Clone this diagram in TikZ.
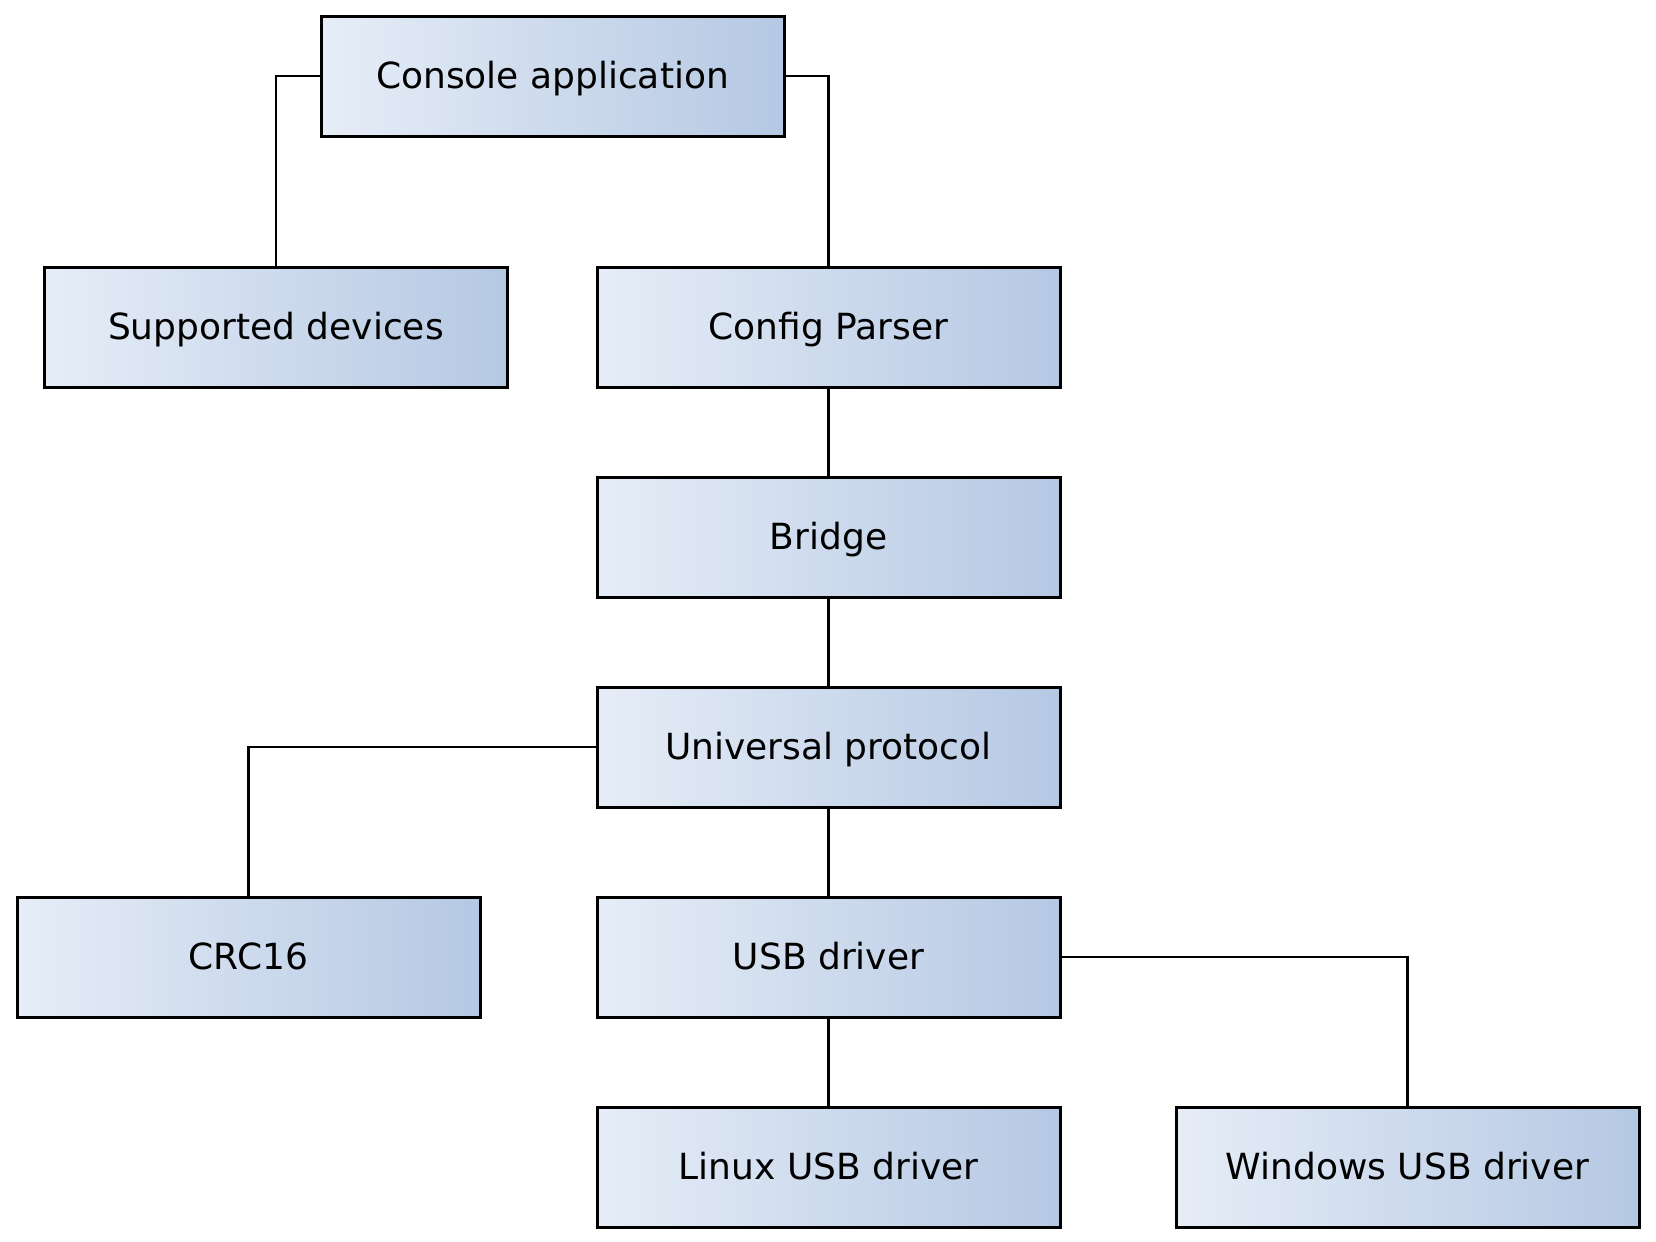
\documentclass[tikz,border=0pt]{standalone}
\usepackage{fontspec}
\setmainfont{DejaVu Sans}
\definecolor{gl}{HTML}{E6EDF7}
\definecolor{gr}{HTML}{B5C8E3}
\tikzset{
  blk/.style={draw=black, line width=1.5pt, left color=gl, right color=gr,
    minimum width=231.5pt, minimum height=60pt, inner sep=0pt,
    text height=12.2pt, text depth=0pt,
    font=\fontsize{18pt}{21pt}\selectfont},
  conn/.style={draw=black, line width=1.2pt}
}
\begin{document}
\begin{tikzpicture}[x=0.5pt,y=-0.5pt]
\useasboundingbox (0,0) rectangle (1656,1242);
\node[blk] (console) at (552.5,76) {Console application};
\node[blk] (supp) at (276,327) {Supported devices};
\node[blk] (config) at (828.5,327) {Config Parser};
\node[blk] (bridge) at (828.5,537) {Bridge};
\node[blk] (univ) at (828.5,747) {Universal protocol};
\node[blk] (crc) at (248.5,957) {CRC16};
\node[blk] (usb) at (828.5,957) {USB driver};
\node[blk] (linux) at (828.5,1167) {Linux USB driver};
\node[blk] (win) at (1407.5,1167) {Windows USB driver};
\draw[conn] (console.west) -| (supp.north);
\draw[conn] (console.east) -| (config.north);
\draw[conn] (config) -- (bridge);
\draw[conn] (bridge) -- (univ);
\draw[conn] (univ.west) -| (crc.north);
\draw[conn] (univ) -- (usb);
\draw[conn] (usb) -- (linux);
\draw[conn] (usb.east) -| (win.north);
\end{tikzpicture}
\end{document}
